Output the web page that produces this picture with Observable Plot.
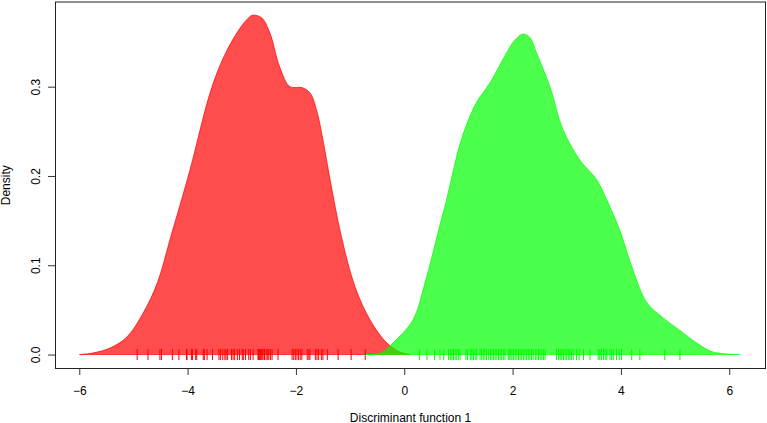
<!DOCTYPE html>
<html>
<head>
<meta charset="utf-8">
<script src="https://cdn.jsdelivr.net/npm/d3@7"></script>
<script src="https://cdn.jsdelivr.net/npm/@observablehq/plot@0.6"></script>
<style>
  html, body { margin: 0; padding: 0; background: #fff; }
</style>
</head>
<body>
<div id="chart"></div>
<script>
// Density curve of group 1 (red): x, density
const redX = [-5.99, -5.75, -5.43, -5.12, -4.82, -4.56, -4.31, -3.956, -3.624, -3.44, -3.254, -3.07, -2.909, -2.80, -2.63, -2.48, -2.30, -2.11, -1.89, -1.74, -1.62, -1.50, -1.37, -1.16, -0.91, -0.63, -0.32, -0.08, 0.10];
const redY = [0, 0.0017, 0.0073, 0.0196, 0.0465, 0.080, 0.132, 0.2067, 0.2851, 0.318, 0.343, 0.362, 0.375, 0.380, 0.377, 0.360, 0.322, 0.300, 0.299, 0.293, 0.274, 0.240, 0.196, 0.132, 0.076, 0.0386, 0.0129, 0.0028, 0];

// Density curve of group 2 (green): x, density
const greenX = [-0.73, -0.45, -0.21, 0.16, 0.382, 0.65, 0.78, 0.908, 1.03, 1.18, 1.34, 1.58, 1.89, 2.04, 2.19, 2.32, 2.44, 2.69, 2.93, 3.24, 3.55, 3.74, 3.98, 4.22, 4.48, 4.78, 5.09, 5.40, 5.70, 6.20];
const greenY = [0, 0.001, 0.0129, 0.0386, 0.0801, 0.1428, 0.173, 0.2067, 0.236, 0.262, 0.283, 0.304, 0.338, 0.352, 0.359, 0.355, 0.338, 0.300, 0.252, 0.218, 0.196, 0.173, 0.139, 0.095, 0.058, 0.041, 0.027, 0.0129, 0.0028, 0];

// Rug (individual scores)
const redRug = [-4.94, -4.74, -4.52, -4.49, -4.29, -4.17, -4.03, -4.02, -3.94, -3.92, -3.86, -3.84, -3.72, -3.70, -3.65, -3.55, -3.43, -3.40, -3.36, -3.32, -3.30, -3.27, -3.20, -3.17, -3.14, -3.09, -3.05, -3.00, -2.98, -2.94, -2.88, -2.85, -2.80, -2.71, -2.70, -2.68, -2.66, -2.65, -2.63, -2.60, -2.59, -2.56, -2.53, -2.51, -2.48, -2.45, -2.34, -2.08, -2.05, -2.02, -1.99, -1.96, -1.93, -1.90, -1.80, -1.77, -1.75, -1.65, -1.62, -1.59, -1.54, -1.51, -1.43, -1.23, -0.99, -0.73];
const greenRug = [0.27, 0.41, 0.55, 0.65, 0.72, 0.81, 0.84, 0.87, 0.90, 0.93, 0.96, 0.99, 1.02, 1.13, 1.16, 1.21, 1.24, 1.27, 1.30, 1.33, 1.39, 1.42, 1.45, 1.48, 1.51, 1.55, 1.58, 1.61, 1.64, 1.67, 1.70, 1.73, 1.76, 1.79, 1.82, 1.85, 1.91, 1.93, 1.96, 1.98, 2.01, 2.04, 2.07, 2.10, 2.13, 2.16, 2.19, 2.22, 2.25, 2.28, 2.31, 2.34, 2.37, 2.41, 2.44, 2.47, 2.50, 2.53, 2.56, 2.59, 2.80, 2.84, 2.87, 2.90, 2.93, 2.96, 2.99, 3.02, 3.05, 3.08, 3.11, 3.17, 3.22, 3.30, 3.42, 3.57, 3.60, 3.63, 3.67, 3.70, 3.73, 3.79, 3.82, 3.85, 3.91, 3.96, 4.00, 4.19, 4.34, 4.80, 5.08];

const xTicks = [-6, -4, -2, 0, 2, 4, 6];
const yTicks = [0, 0.1, 0.2, 0.3];

const red = redX.map((x, i) => ({x, y: redY[i]}));
const green = greenX.map((x, i) => ({x, y: greenY[i]}));

const chart = Plot.plot({
  width: 767,
  height: 423,
  marginLeft: 55,
  marginRight: 2,
  marginTop: 1.5,
  marginBottom: 55,
  style: {fontFamily: "'Liberation Sans', Arial, Helvetica, sans-serif", fontSize: "12px", background: "#fff", color: "#000"},
  x: {domain: [-6.448, 6.66]},
  y: {domain: [-0.0151, 0.3954]},
  marks: [
    Plot.areaY(red, {x: "x", y: "y", fill: "red", fillOpacity: 0.7, stroke: "red", strokeOpacity: 0.7, strokeWidth: 1, curve: "catmull-rom"}),
    Plot.areaY(green, {x: "x", y: "y", fill: "#00ff00", fillOpacity: 0.7, stroke: "#00ff00", strokeOpacity: 0.7, strokeWidth: 1, curve: "catmull-rom"}),
    Plot.ruleX(redRug, {x: d => d, y1: -0.0062, y2: 0.0062, stroke: "red", strokeWidth: 1}),
    Plot.ruleX(greenRug, {x: d => d, y1: -0.0062, y2: 0.0062, stroke: "#00ff00", strokeWidth: 1}),
    Plot.frame({stroke: "#222"}),
    Plot.axisX({ticks: xTicks, tickSize: 7, tickPadding: 11, label: "Discriminant function 1", labelAnchor: "center", labelArrow: "none", labelOffset: 53, stroke: "#333"}),
    Plot.axisY({ticks: yTicks, tickSize: 7, tickPadding: 9, tickRotate: -90, tickFormat: d3.format(".1f"), label: "Density", labelAnchor: "center", labelArrow: "none", labelOffset: 54, stroke: "#333"})
  ]
});
document.getElementById("chart").appendChild(chart);
</script>
</body>
</html>
